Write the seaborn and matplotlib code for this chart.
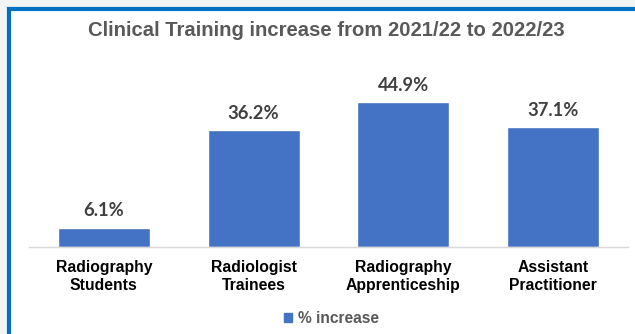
import matplotlib
matplotlib.use("Agg")
import matplotlib.pyplot as plt
import seaborn as sns
import pandas as pd
from matplotlib.patches import Rectangle, Patch

categories = ["Radiography\nStudents", "Radiologist\nTrainees",
              "Radiography\nApprenticeship", "Assistant\nPractitioner"]
pct_increase = [6.1, 36.2, 44.9, 37.1]
value_labels = ["6.1%", "36.2%", "44.9%", "37.1%"]
series_name = "% increase"
title = "Clinical Training increase from 2021/22 to 2022/23"

df = pd.DataFrame({"category": categories, "value": pct_increase})

sns.set_theme(style="white")
plt.rcParams["font.family"] = ["Liberation Sans", "DejaVu Sans"]

W, H = 635, 334
fig = plt.figure(figsize=(W / 100, H / 100), dpi=100)
fig.patch.set_facecolor("#f3f4f4")

# white chart area with blue frame (top/left edges visible)
bg = fig.add_axes([0, 0, 1, 1], zorder=-10)
bg.set_axis_off()
bg.set_xlim(0, W)
bg.set_ylim(H, 0)
bg.add_patch(Rectangle((9, 9), W + 20, H + 20, facecolor="white",
                       edgecolor="#0070c0", linewidth=3))

ax = fig.add_axes([29 / W, 1 - 247.3 / H, (628 - 29) / W, 161.5 / H])
ax.set_facecolor("none")
bar_color = "#4472c4"
sns.barplot(data=df, x="category", y="value", color=bar_color, width=0.615,
            saturation=1, ax=ax)
ax.set_ylim(0, 50)
ax.set_xlim(-0.5, 3.5)

for i, (v, lab) in enumerate(zip(pct_increase, value_labels)):
    ax.annotate(lab, (i, v), xytext=(0, 6), textcoords="offset points",
                ha="center", va="bottom", fontsize=13.2, fontweight="bold",
                color="#404040", family=["Lato", "DejaVu Sans"],
                annotation_clip=False)

for s in ["top", "right", "left"]:
    ax.spines[s].set_visible(False)
ax.spines["bottom"].set_color("#d9d9d9")
ax.spines["bottom"].set_linewidth(1)
ax.set_yticks([])
ax.set_xlabel("")
ax.set_ylabel("")
ax.tick_params(axis="x", length=0, pad=9)
for t in ax.get_xticklabels():
    t.set_fontsize(11.3)
    t.set_fontweight("bold")
    t.set_color("#000000")
    t.set_linespacing(1.3)

fig.text(326 / W, 1 - 30.5 / H, title, ha="center", va="center",
         fontsize=14.6, fontweight="bold", color="#595959")

fig.legend(handles=[Patch(color=bar_color, label=series_name)],
           loc="center", bbox_to_anchor=(331 / W, 1 - 318.5 / H),
           frameon=False, handlelength=0.55, handleheight=0.55,
           handletextpad=0.35,
           prop={"size": 11.2, "weight": "bold"}, labelcolor="#595959")

fig.savefig("out.png", dpi=100, facecolor=fig.get_facecolor())
